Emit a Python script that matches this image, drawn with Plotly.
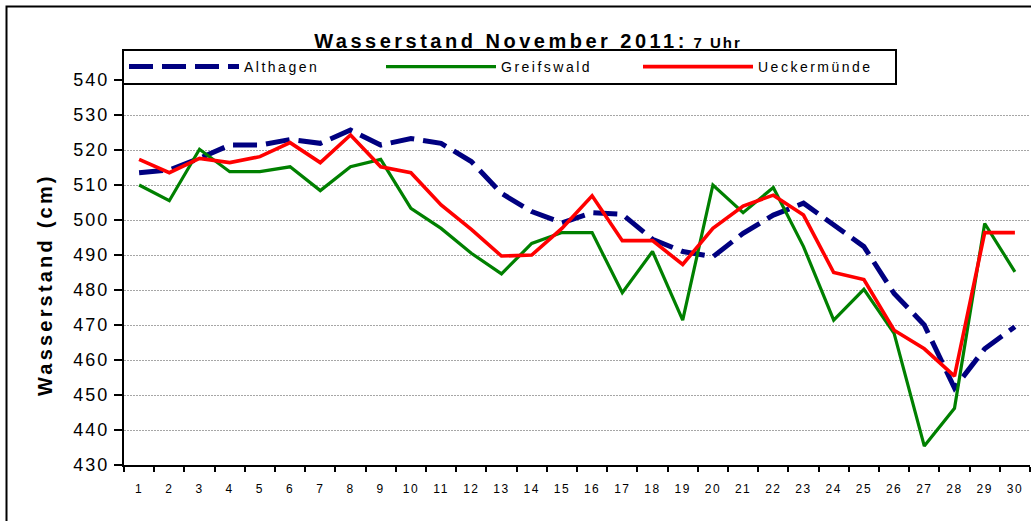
import plotly.graph_objects as go

days = [str(d) for d in range(1, 31)]

althagen = [513.5, 514.3, 517.6, 521.4, 521.4, 523.0, 521.9, 525.7, 521.4, 523.3,
            521.9, 516.7, 507.6, 502.4, 499.2, 502.1, 501.6, 494.5, 491.0, 489.5,
            496.2, 501.4, 504.8, 498.6, 492.4, 479.0, 470.0, 452.0, 463.2, 469.5]

greifswald = [510.0, 505.5, 520.2, 513.8, 513.8, 515.2, 508.4, 515.2, 517.3, 503.3,
              497.6, 490.5, 484.6, 493.3, 496.4, 496.4, 479.2, 491.0, 471.4, 510.0,
              502.1, 509.3, 492.4, 471.4, 480.2, 467.6, 435.4, 446.2, 499.0, 485.2]

ueckermuende = [517.3, 513.5, 517.6, 516.4, 518.1, 522.1, 516.4, 524.3, 515.2, 513.5,
                504.3, 497.3, 489.7, 490.0, 497.6, 506.9, 494.1, 494.1, 487.3, 497.6,
                504.0, 507.1, 501.4, 485.0, 483.0, 468.5, 463.2, 455.4, 496.4, 496.4]

series_names = ["Althagen", "Greifswald", "Ueckermünde"]
series_values = [althagen, greifswald, ueckermuende]
series_colors = ["#000080", "#008000", "#FF0000"]
series_widths = [5, 3.2, 3.6]
series_dash = ["24px,9px", "solid", "solid"]

y_ticks = [430, 440, 450, 460, 470, 480, 490, 500, 510, 520, 530, 540]

FONT = "Liberation Sans, Arial, sans-serif"


def spaced(text, px):
    return f'<span style="letter-spacing:{px}px">{text}</span>'


fig = go.Figure()
for name, vals, col, w, dash in zip(series_names, series_values, series_colors,
                                    series_widths, series_dash):
    fig.add_trace(go.Scatter(
        x=days, y=vals, mode="lines",
        name=spaced(name, 2.5),
        line=dict(color=col, width=w, dash=dash),
    ))

W, H = 1031, 521
L, R, T, B = 124, 1, 80, 56
pw = W - L - R
ph = H - T - B


def px_x(p):
    return (p - L) / pw


def px_y(p):
    return (H - B - p) / ph


fig.update_layout(
    width=W, height=H,
    margin=dict(l=L, r=R, t=T, b=B, autoexpand=False),
    paper_bgcolor="white", plot_bgcolor="white",
    font=dict(family=FONT, color="black"),
    title=dict(
        text='<b>' + spaced("Wasserstand November 2011:", 3.5) + ' '
             '<span style="font-size:15px;letter-spacing:2px">7 Uhr</span></b>',
        font=dict(size=20, family=FONT, color="black"),
        x=px_x(528), xref="paper", xanchor="center",
        y=1 - 41 / H, yref="container", yanchor="middle",
    ),
    showlegend=True,
    legend=dict(
        orientation="h",
        xref="container", x=122 / W, xanchor="left",
        yref="container", y=1 - 85 / H, yanchor="bottom",
        bgcolor="white", bordercolor="black", borderwidth=2,
        font=dict(size=14, family=FONT, color="black"),
        itemwidth=110,
        entrywidth=132,
    ),
    xaxis=dict(
        type="category",
        range=[-0.5, len(days) - 0.5],
        tickson="boundaries",
        ticks="outside", ticklen=5, tickwidth=2, tickcolor="black",
        showline=True, linecolor="black", linewidth=2,
        showgrid=False, zeroline=False, automargin=False,
        tickmode="array", tickvals=days, ticktext=[spaced(d, 1.5) for d in days],
        tickfont=dict(size=12, family=FONT, color="black"),
        ticklabelstandoff=12,
    ),
    yaxis=dict(
        range=[430, 540],
        tickmode="array", tickvals=y_ticks,
        ticktext=[spaced(v, 2) for v in y_ticks],
        ticks="outside", ticklen=8, tickwidth=2, tickcolor="black",
        showline=True, linecolor="black", linewidth=2,
        showgrid=True, gridcolor="#a6a6a6", gridwidth=1, griddash="2px,1px",
        zeroline=False, automargin=False,
        tickfont=dict(size=18, family=FONT, color="black"),
        ticklabelstandoff=1,
    ),
    annotations=[dict(
        text='<b>' + spaced("Wasserstand (cm)", 3.2) + '</b>',
        font=dict(size=20, family=FONT, color="black"),
        textangle=-90, showarrow=False,
        xref="paper", yref="paper",
        x=px_x(45), y=px_y(285), xanchor="center", yanchor="middle",
    )],
    shapes=[dict(
        type="rect", xref="paper", yref="paper",
        x0=px_x(6.5), x1=px_x(1040), y0=px_y(530), y1=px_y(6.5),
        line=dict(color="black", width=2), fillcolor="rgba(0,0,0,0)",
        layer="above",
    )],
)

fig.write_html(
    "out.html",
    config={"displayModeBar": False},
    post_script="document.body.style.margin='0';document.body.style.overflow='hidden';",
)
